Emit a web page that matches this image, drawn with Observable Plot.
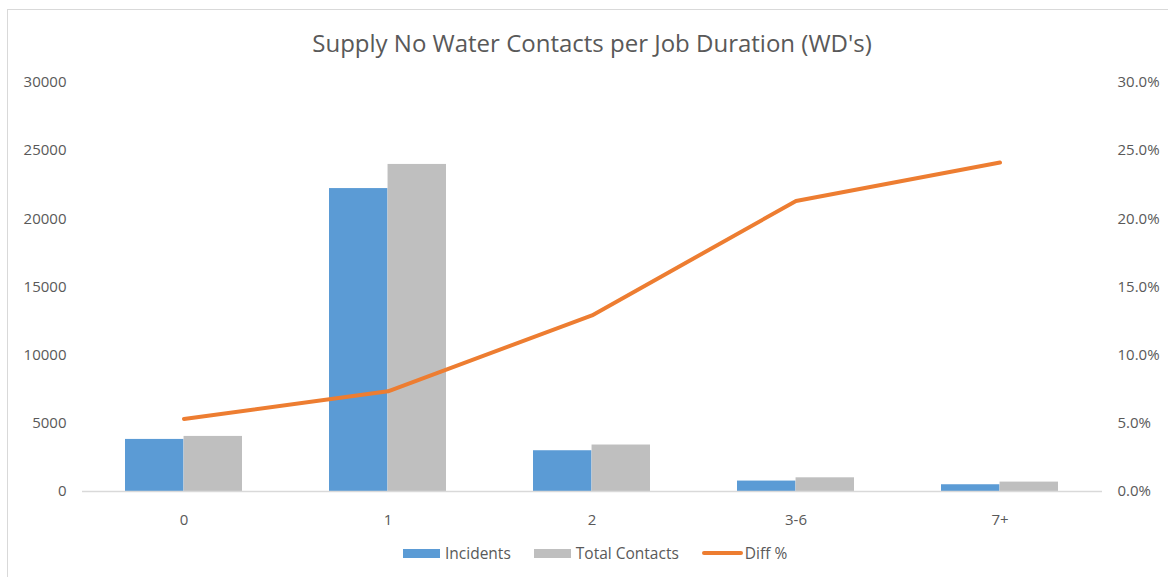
<!DOCTYPE html>
<html>
<head>
<meta charset="utf-8">
<script src="https://cdn.jsdelivr.net/npm/d3@7"></script>
<script src="https://cdn.jsdelivr.net/npm/@observablehq/plot@0.6"></script>
<style>
  html, body { margin: 0; padding: 0; background: #fff; }
  body { width: 1168px; height: 577px; position: relative; overflow: hidden; font-family: "Open Sans", sans-serif; color: #595959; }
  #frame { position: absolute; left: 7px; top: 9px; width: 1180px; height: 600px; border: 1px solid #d9d9d9; box-sizing: border-box; }
  #title { position: absolute; left: 8px; width: 1168px; top: 26px; text-align: center; font-size: 24px; line-height: 34px; }
  #chart { position: absolute; left: 0; top: 60px; }
  #legend { position: absolute; left: 403px; top: 542px; display: flex; align-items: center; font-size: 15.5px; line-height: 22px; }
  .sw { display: inline-block; width: 37px; height: 9px; margin-right: 5px; }
  .ln { display: inline-block; width: 41px; height: 4px; border-radius: 2px; margin-right: 2px; }
  .item { display: flex; align-items: center; margin-right: 23px; }
</style>
</head>
<body>
<div id="frame"></div>
<div id="title">Supply No Water Contacts per Job Duration (WD's)</div>
<div id="chart"></div>
<div id="legend"></div>
<script>
const categories = ["0", "1", "2", "3-6", "7+"];
const incidents = [3820, 22220, 2990, 765, 495];
const totalContacts = [4040, 23990, 3410, 1005, 690];
const diffPercent = [5.32, 7.35, 12.91, 21.31, 24.13];
const countTicks = [0, 5000, 10000, 15000, 20000, 25000, 30000];
const percentTicks = [0, 5, 10, 15, 20, 25, 30];

const seriesNames = ["Incidents", "Total Contacts", "Diff %"];
const colors = ["#5B9BD5", "#BFBFBF", "#ED7D31"];

const rows = categories.map((c, i) => ({cat: c, incidents: incidents[i], total: totalContacts[i], diff: diffPercent[i]}));

const W = 1168, H = 480, mL = 82, mR = 66, mT = 22, mB = 49;
const pInner = 0.426, pOuter = 0.213;
const step = (W - mL - mR) / (categories.length - pInner + 2 * pOuter);
const bw = step * (1 - pInner);
const scaleFactor = 30000 / 30; // percent -> count axis units

const plot = Plot.plot({
  width: W, height: H,
  marginLeft: mL, marginRight: mR, marginTop: mT, marginBottom: mB,
  style: {fontFamily: "'Open Sans', sans-serif", fontSize: "15px", color: "#595959", background: "transparent"},
  x: {domain: categories, paddingInner: pInner, paddingOuter: pOuter, label: null},
  y: {domain: [0, 30000], label: null},
  marks: [
    Plot.barY(rows, {x: "cat", y: "incidents", fill: colors[0], insetRight: bw / 2}),
    Plot.barY(rows, {x: "cat", y: "total", fill: colors[1], insetLeft: bw / 2}),
    Plot.ruleY([0], {stroke: "#d9d9d9", strokeWidth: 1.5}),
    Plot.lineY(rows, {x: "cat", y: d => d.diff * scaleFactor, stroke: colors[2], strokeWidth: 4, strokeLinecap: "round", strokeLinejoin: "round"}),
    Plot.axisX({tickSize: 0, tickPadding: 23, label: null}),
    Plot.axisY({anchor: "left", ticks: countTicks, tickSize: 0, tickPadding: 16, tickFormat: d => String(d), label: null}),
    Plot.axisY({anchor: "right", ticks: percentTicks.map(p => p * scaleFactor), tickSize: 0, tickPadding: 15, tickFormat: d => (d / scaleFactor).toFixed(1) + "%", label: null})
  ]
});
document.getElementById("chart").appendChild(plot);

const legend = document.getElementById("legend");
seriesNames.forEach((name, i) => {
  const item = document.createElement("div");
  item.className = "item";
  const sw = document.createElement("span");
  sw.className = i < 2 ? "sw" : "ln";
  sw.style.background = colors[i];
  item.appendChild(sw);
  const t = document.createElement("span");
  t.textContent = name;
  item.appendChild(t);
  legend.appendChild(item);
});
</script>
</body>
</html>
